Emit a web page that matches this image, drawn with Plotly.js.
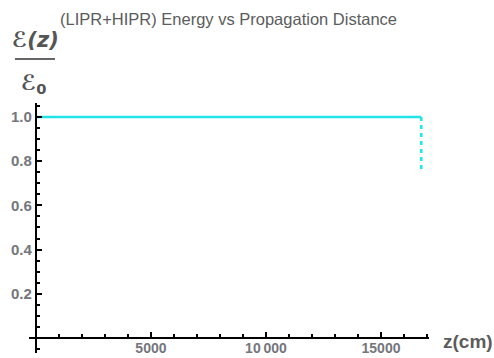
<!DOCTYPE html>
<html>
<head>
<meta charset="utf-8">
<script src="https://cdn.plot.ly/plotly-3.0.1.min.js"></script>
<style>
  html, body { margin: 0; padding: 0; background: #fff; }
  #chart { width: 494px; height: 358px; }
</style>
</head>
<body>
<div id="chart"></div>
<script>
// Normalised pulse energy along the propagation path
const zFlat = [0, 16750];          // z (cm)
const energyFlat = [1.0, 1.0];     // E(z)/E0
const zDrop = [16750, 16750];      // z (cm)
const energyDrop = [1.0, 0.75];    // E(z)/E0

const xTickVals = [5000, 10000, 15000];
const xTickText = ['5000', '10\u2009000', '15000'];
const yTickVals = [0.2, 0.4, 0.6, 0.8, 1.0];
const yTickText = ['0.2', '0.4', '0.6', '0.8', '1.0'];

const W = 494, H = 358;
const margin = {l: 29, r: 65, t: 103, b: 5, pad: 0};
const xRange = [-300, 17087];
const yRange = [-0.068, 1.063];

// pixel -> paper helpers for the free-floating labels
const pw = W - margin.l - margin.r, ph = H - margin.t - margin.b;
const px = x => (x - margin.l) / pw;
const py = y => (H - margin.b - y) / ph;

const cyan = '#22e2ea';
const grey = '#5c5c5c';
const tickFontY = {family: 'Liberation Sans, Arial, sans-serif', size: 15, color: '#74767c', weight: 'bold'};
const tickFontX = {family: 'Liberation Sans, Arial, sans-serif', size: 14, color: '#74767c', weight: 'bold'};

const traces = [
  {x: zFlat, y: energyFlat, mode: 'lines', line: {color: cyan, width: 2.6}, hoverinfo: 'skip'},
  {x: zDrop, y: energyDrop, mode: 'lines', line: {color: cyan, width: 2.6, dash: '4px,4px'}, hoverinfo: 'skip'}
];

const layout = {
  width: W, height: H,
  margin: margin,
  paper_bgcolor: '#fff', plot_bgcolor: '#fff',
  showlegend: false,
  xaxis: {
    range: xRange, anchor: 'free',
    position: (0 - yRange[0]) / (yRange[1] - yRange[0]),
    showgrid: false, zeroline: false,
    showline: true, linecolor: '#000', linewidth: 2,
    ticks: 'inside', ticklen: 5, tickwidth: 2, tickcolor: '#000',
    tickmode: 'array', tickvals: xTickVals, ticktext: xTickText,
    tickfont: tickFontX, ticklabelstandoff: -3,
    minor: {tickmode: 'linear', tick0: 0, dtick: 1000, ticks: 'inside', ticklen: 3, tickwidth: 2, tickcolor: '#000'}
  },
  yaxis: {
    range: yRange, anchor: 'free',
    position: (0 - xRange[0]) / (xRange[1] - xRange[0]),
    showgrid: false, zeroline: false,
    showline: true, linecolor: '#000', linewidth: 2,
    ticks: 'inside', ticklen: 5, tickwidth: 2, tickcolor: '#000',
    tickmode: 'array', tickvals: yTickVals, ticktext: yTickText,
    tickfont: tickFontY,
    minor: {tickmode: 'linear', tick0: 0, dtick: 0.05, ticks: 'inside', ticklen: 3, tickwidth: 2, tickcolor: '#000'}
  },
  shapes: [
    // fraction bar of the vertical axis label
    {type: 'line', xref: 'paper', yref: 'paper', x0: px(15), x1: px(55), y0: py(59), y1: py(59),
     line: {color: '#666', width: 2}}
  ],
  annotations: [
    {text: '(LIPR+HIPR) Energy vs Propagation Distance', xref: 'paper', yref: 'paper',
     x: px(228), y: py(19), showarrow: false, xanchor: 'center', yanchor: 'middle',
     font: {family: 'Liberation Sans, Arial, sans-serif', size: 16.5, color: grey}},
    {text: '<i>\u2130(z)</i>', xref: 'paper', yref: 'paper', x: px(35), y: py(40),
     showarrow: false, xanchor: 'center', yanchor: 'middle',
     font: {family: 'DejaVu Sans, sans-serif', size: 21, color: '#555', weight: 'bold'}},
    {text: '<i>\u2130</i><sub>0</sub>', xref: 'paper', yref: 'paper', x: px(34), y: py(84),
     showarrow: false, xanchor: 'center', yanchor: 'middle',
     font: {family: 'DejaVu Sans, sans-serif', size: 21, color: '#555', weight: 'bold'}},
    {text: '<b>z(cm)</b>', xref: 'paper', yref: 'paper', x: px(468), y: py(341),
     showarrow: false, xanchor: 'center', yanchor: 'middle',
     font: {family: 'Liberation Sans, Arial, sans-serif', size: 19, color: grey}}
  ]
};

Plotly.newPlot('chart', traces, layout, {staticPlot: true, displayModeBar: false});
</script>
</body>
</html>
